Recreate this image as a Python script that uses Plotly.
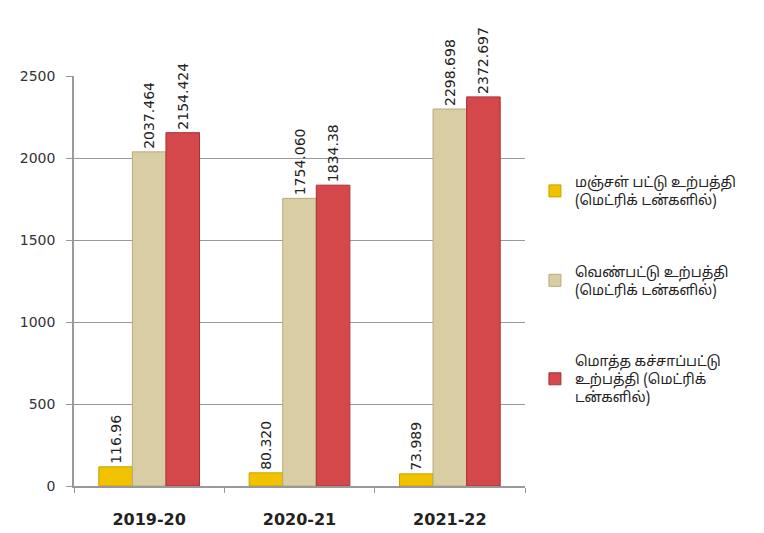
import plotly.graph_objects as go

years = ["2019-20", "2020-21", "2021-22"]
yellow_silk = [116.96, 80.320, 73.989]
white_silk = [2037.464, 1754.060, 2298.698]
total_silk = [2154.424, 1834.38, 2372.697]
yellow_labels = ["116.96", "80.320", "73.989"]
white_labels = ["2037.464", "1754.060", "2298.698"]
total_labels = ["2154.424", "1834.38", "2372.697"]
names = [
    "மஞ்சள் பட்டு உற்பத்தி<br>(மெட்ரிக் டன்களில்)",
    "வெண்பட்டு உற்பத்தி<br>(மெட்ரிக் டன்களில்)",
    "மொத்த கச்சாப்பட்டு<br>உற்பத்தி (மெட்ரிக்<br>டன்களில்)",
]
colors = ["#F2C200", "#D9CDA3", "#D4474A"]
line_colors = ["#C9A000", "#B8AA7E", "#A83235"]

fig = go.Figure()
for i, (vals, labs) in enumerate([(yellow_silk, yellow_labels), (white_silk, white_labels), (total_silk, total_labels)]):
    fig.add_trace(go.Bar(
        x=years, y=vals, name=names[i], text=labs,
        textposition="outside", textangle=-90, cliponaxis=False,
        textfont=dict(family="DejaVu Sans", size=14, color="#222"),
        marker=dict(color=colors[i], line=dict(color=line_colors[i], width=1)),
        legendgroup=str(i),
    ))

fig.update_layout(
    width=764, height=533,
    margin=dict(l=64, r=247, t=68, b=55),
    paper_bgcolor="white", plot_bgcolor="white",
    barmode="group", bargap=0.33, bargroupgap=0,
    uniformtext=dict(minsize=14, mode="show"),
    font=dict(family="DejaVu Sans", size=12, color="#333"),
    legend=dict(x=1.022, y=0.78, xanchor="left", yanchor="top",
                traceorder="grouped", tracegroupgap=50,
                font=dict(family="Noto Sans Tamil, Noto Sans, sans-serif", size=14, color="#222"),
                itemwidth=30),
    showlegend=True,
)
fig.update_xaxes(showline=True, linecolor="#999", linewidth=1.5,
                 ticks="outside", tickson="boundaries", ticklen=5, tickcolor="#999",
                 ticklabelstandoff=18,
                 tickfont=dict(size=16, color="#222", family="DejaVu Sans", weight="bold"))
fig.update_yaxes(range=[0, 2500], dtick=500, showgrid=True, gridcolor="#999", gridwidth=1,
                 showline=True, linecolor="#999", linewidth=1.5,
                 ticks="outside", ticklen=6, tickcolor="#999", ticklabelstandoff=8,
                 tickfont=dict(size=14, color="#333", family="DejaVu Sans"), zeroline=False)

fig.write_html("out.html")
